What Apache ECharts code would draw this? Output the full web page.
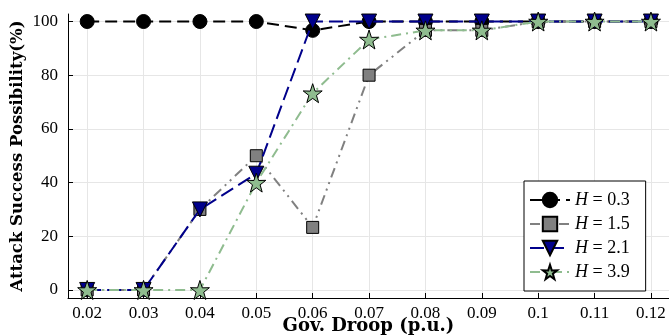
<!DOCTYPE html>
<html><head><meta charset="utf-8">
<script src="https://cdn.jsdelivr.net/npm/echarts@6/dist/echarts.min.js"></script>
<style>html,body{margin:0;padding:0;background:#fff}#c{width:669px;height:335px}</style>
</head><body><div id="c"></div>
<script>
const droop = [0.02,0.03,0.04,0.05,0.06,0.07,0.08,0.09,0.10,0.11,0.12];
const xTicks = [0.02,0.03,0.04,0.05,0.06,0.07,0.08,0.09,0.1,0.11,0.12];
const yTicks = [0,20,40,60,80,100];
const h03 = [100,100,100,100,96.7,100,100,100,100,100,100];
const h15 = [0,0,30,50,23.3,80,96.7,96.7,100,100,100];
const h21 = [0,0,30,43.3,100,100,100,100,100,100,100];
const h39 = [0,0,0,40,73.3,93.3,96.7,96.7,100,100,100];
const names = ['0.3','1.5','2.1','3.9'];

const font = '"Liberation Serif", "DejaVu Serif", serif';
const tfont = '"DejaVu Serif", "Liberation Serif", serif';
const pair = arr => droop.map((x,i)=>[x,arr[i]]);
function mk(name, data, color, dash, symbol, size, fill, z){
  return {
    name:name, type:'line', data:pair(data), z:z,
    symbol:symbol, symbolSize:size, clip:false,
    lineStyle:{color:color,width:2,type:dash},
    itemStyle:{color:fill,borderColor:'#000',borderWidth:1},
    emphasis:{disabled:true}
  };
}
const chart = echarts.init(document.getElementById('c'),null,{renderer:'canvas'});
chart.setOption({
  animation:false,
  backgroundColor:'#fff',
  grid:{left:68,top:14,right:0,bottom:37,containLabel:false,outerBoundsMode:'none'},
  xAxis:{
    type:'value', min:0.0166, max:0.1232,
    name:'Gov. Droop (p.u.)', nameLocation:'middle', nameGap:19, nameMoveOverlap:false,
    nameTextStyle:{fontFamily:tfont,fontWeight:'bold',fontSize:18,color:'#000'},
    axisLine:{show:true,onZero:false,lineStyle:{color:'#000',width:1}},
    axisTick:{show:true,inside:true,length:5,customValues:xTicks,lineStyle:{color:'#000'}},
    axisLabel:{customValues:xTicks,fontFamily:font,fontSize:17,color:'#000',margin:7,
      formatter:v=>String(+v.toFixed(2))},
    splitLine:{show:true,lineStyle:{color:'#e6e6e6',width:1}}
  },
  yAxis:{
    type:'value', min:-3, max:102.8,
    name:'Attack Success Possibility(%)', nameLocation:'middle', nameGap:42, nameRotate:90, nameMoveOverlap:false,
    nameTextStyle:{fontFamily:tfont,fontWeight:'bold',fontSize:16.5,color:'#000'},
    axisLine:{show:true,onZero:false,lineStyle:{color:'#000',width:1}},
    axisTick:{show:true,inside:true,length:5,customValues:yTicks,lineStyle:{color:'#000'}},
    axisLabel:{customValues:yTicks,fontFamily:font,fontSize:17,color:'#000',margin:10},
    splitLine:{show:true,lineStyle:{color:'#e6e6e6',width:1}}
  },
  legend:{
    orient:'vertical', left:524, top:181,
    backgroundColor:'#fff', borderColor:'#000', borderWidth:1, borderRadius:0,
    padding:[10,16,10,5], itemGap:6, itemWidth:40, itemHeight:18,
    data:names,
    formatter:n=>'{i|H} = '+n,
    textStyle:{fontFamily:font,fontSize:18,color:'#000',
      rich:{i:{fontFamily:font,fontStyle:'italic',fontSize:18,color:'#000'}}}
  },
  series:[
    mk('0.3',h03,'#000000',[12,6],'circle',14,'#000000',2),
    mk('1.5',h15,'#808080',[10,5,2,5,2,5],'rect',12,'#808080',3),
    mk('2.1',h21,'#00008b',[14,6],'path://M0,0 L10,0 L5,10 Z',15,'#00008b',4),
    mk('3.9',h39,'#8fbc8f',[10,5,2,5],'path://M50,0 L61.8,35.3 L97.6,34.5 L69,56 L79.4,90.5 L50,70 L20.6,90.5 L31,56 L2.4,34.5 L38.2,35.3 Z',19,'#8fbc8f',5)
  ]
});
</script></body></html>
